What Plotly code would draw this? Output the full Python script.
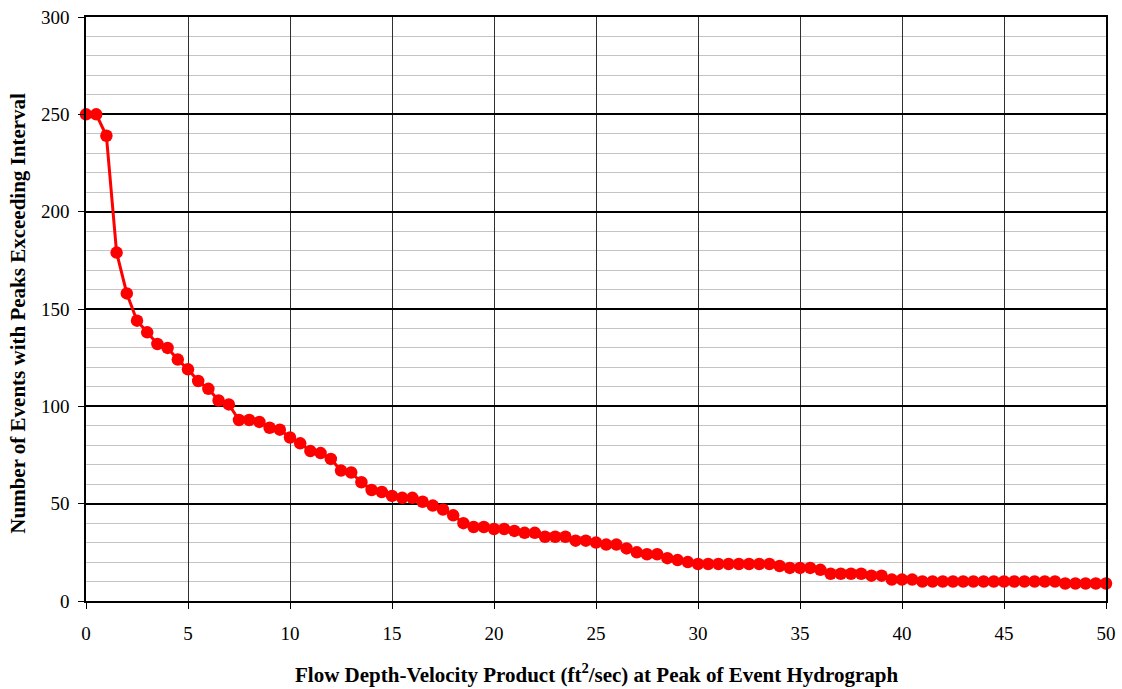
import plotly.graph_objects as go

x_values = [i * 0.5 for i in range(101)]
events = [
    250, 250, 239, 179, 158, 144, 138, 132, 130, 124,
    119, 113, 109, 103, 101, 93, 93, 92, 89, 88,
    84, 81, 77, 76, 73, 67, 66, 61, 57, 56,
    54, 53, 53, 51, 49, 47, 44, 40, 38, 38,
    37, 37, 36, 35, 35, 33, 33, 33, 31, 31,
    30, 29, 29, 27, 25, 24, 24, 22, 21, 20,
    19, 19, 19, 19, 19, 19, 19, 19, 18, 17,
    17, 17, 16, 14, 14, 14, 14, 13, 13, 11,
    11, 11, 10, 10, 10, 10, 10, 10, 10, 10,
    10, 10, 10, 10, 10, 10, 9, 9, 9, 9,
    9,
]
x_ticks = list(range(0, 51, 5))
y_ticks = list(range(0, 301, 50))
x_title = "<b>Flow Depth-Velocity Product (ft<sup>2</sup>/sec) at Peak of Event Hydrograph</b>"
y_title = "<b>Number of Events with Peaks Exceeding Interval</b>"

FONT = "Liberation Serif"

fig = go.Figure()
fig.add_trace(go.Scatter(
    x=x_values, y=events, mode="lines+markers",
    line=dict(color="#ff0000", width=3),
    marker=dict(color="#ff0000", size=12.5),
    cliponaxis=False, showlegend=False,
))

fig.update_layout(
    width=1122, height=689,
    margin=dict(l=86, r=16, t=17, b=88),
    paper_bgcolor="white", plot_bgcolor="white",
    font=dict(family=FONT, size=19, color="black"),
    xaxis=dict(
        range=[0, 50], tickvals=x_ticks, ticks="outside", ticklen=6,
        tickcolor="black", showline=True, linecolor="black", linewidth=1.5, mirror=True,
        showgrid=True, gridcolor="#303030", gridwidth=1, zeroline=False,
        tickfont=dict(family=FONT, size=19), ticklabelstandoff=8,
        automargin=False,
    ),
    yaxis=dict(
        range=[0, 300], tickvals=y_ticks, ticks="outside", ticklen=6,
        tickcolor="black", showline=True, linecolor="black", linewidth=1.5, mirror=True,
        showgrid=True, gridcolor="black", gridwidth=1.5, zeroline=False,
        minor=dict(dtick=10, showgrid=True, gridcolor="#c4c4c4", gridwidth=1, ticks=""),
        tickfont=dict(family=FONT, size=19), ticklabelstandoff=5,
        automargin=False,
    ),
    annotations=[
        dict(text=x_title, xref="paper", yref="paper", x=0.5, y=0,
             xanchor="center", yanchor="middle", yshift=-72, showarrow=False,
             font=dict(family=FONT, size=21)),
        dict(text=y_title, xref="paper", yref="paper", x=0, y=0.492,
             xanchor="center", yanchor="middle", xshift=-68, textangle=-90,
             showarrow=False, font=dict(family=FONT, size=21)),
    ],
)

fig.write_html("out.html")
